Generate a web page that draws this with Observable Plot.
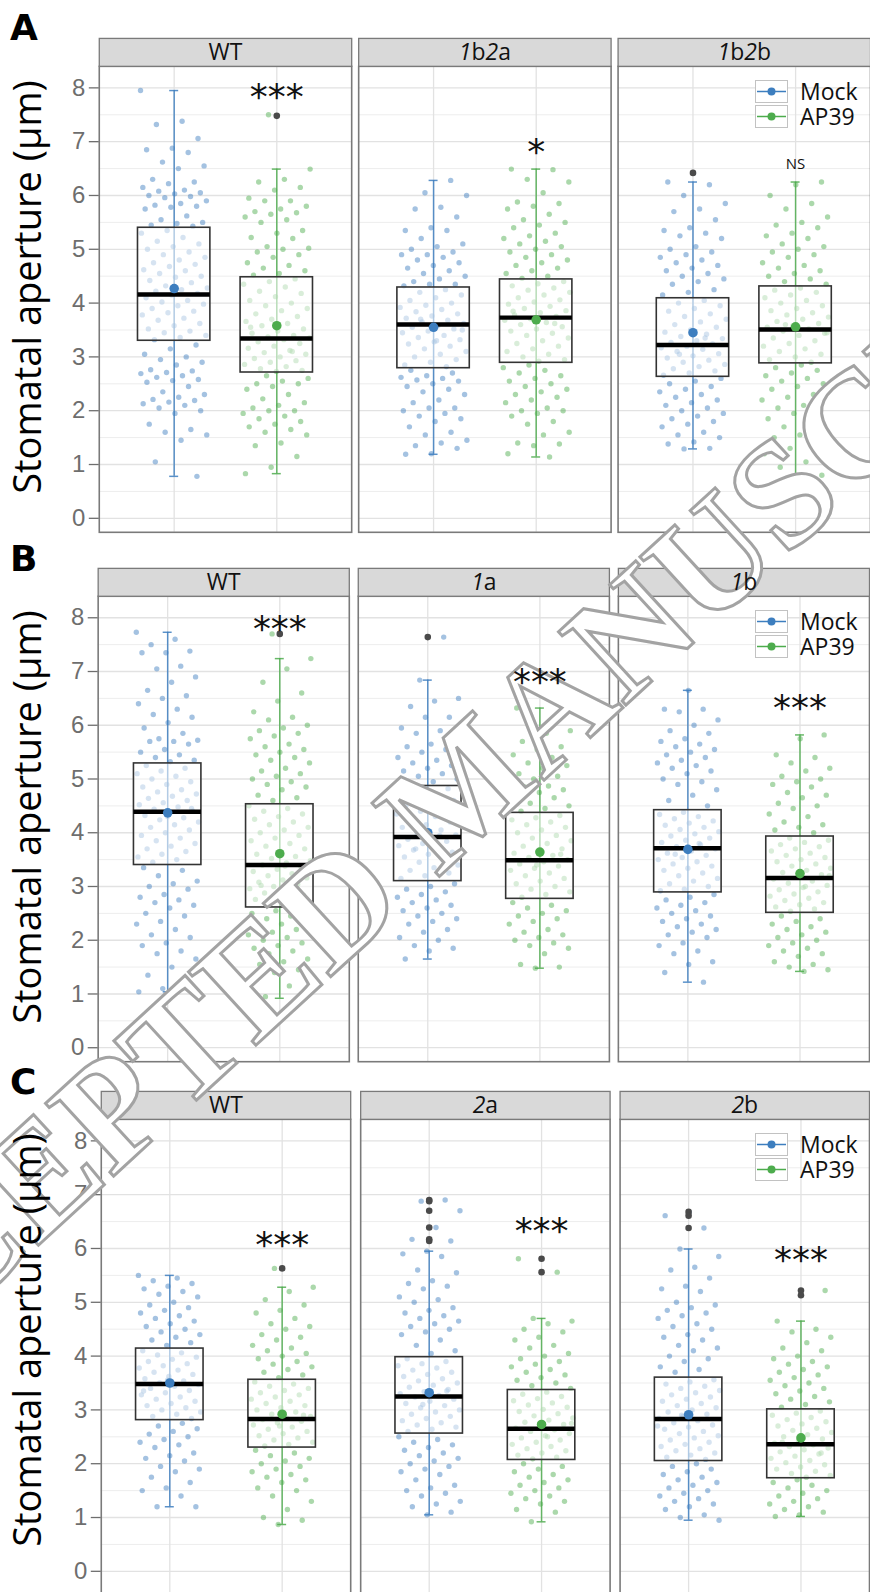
<!DOCTYPE html>
<html>
<head>
<meta charset="utf-8">
<script src="https://cdn.jsdelivr.net/npm/d3@7"></script>
<script src="https://cdn.jsdelivr.net/npm/@observablehq/plot@0.6"></script>
<style>
html, body { margin: 0; padding: 0; background: #fff; }
#fig { position: relative; width: 870px; height: 1592px; overflow: hidden; background: #fff; }
.row { position: absolute; left: 0; }
</style>
</head>
<body>
<div id="fig"></div>
<script>
// ---------------- DATA ----------------
const treatments = ["Mock", "AP39"];
const genotypesA = ["WT", "1b2a", "1b2b"];
const genotypesB = ["WT", "1a", "1b"];
const genotypesC = ["WT", "2a", "2b"];
const yTicks = [0, 1, 2, 3, 4, 5, 6, 7, 8];
const yMinorTicks = [0.5, 1.5, 2.5, 3.5, 4.5, 5.5, 6.5, 7.5];
const yTitle = "Stomatal aperture (µm)";
const panelLetters = ["A", "B", "C"];
const watermark = "ACCEPTED MANUSCRIPT";

// box statistics, order: g1 Mock, g1 AP39, g2 Mock, g2 AP39, g3 Mock, g3 AP39
const lowerA  = [0.78, 0.83, 1.19, 1.14, 1.29, 0.75];
const q1A     = [3.30, 2.71, 2.79, 2.89, 2.63, 2.88];
const medianA = [4.16, 3.34, 3.60, 3.73, 3.22, 3.51];
const q3A     = [5.40, 4.48, 4.29, 4.44, 4.09, 4.31];
const upperA  = [7.95, 6.49, 6.28, 6.49, 6.25, 6.25];
const meanA   = [4.27, 3.58, 3.55, 3.69, 3.45, 3.56];
const outliersA = [[], [7.48], [], [], [6.42], []];
const sigLabelsA = ["***", "*", "NS"];
const sigYA = [7.83, 6.80, 6.59];

const lowerB  = [1.04, 0.92, 1.65, 1.48, 1.22, 1.42];
const q1B     = [3.40, 2.61, 3.10, 2.77, 2.89, 2.51];
const medianB = [4.39, 3.40, 3.92, 3.49, 3.71, 3.16];
const q3B     = [5.29, 4.53, 4.87, 4.37, 4.42, 3.93];
const upperB  = [7.73, 7.24, 6.84, 6.32, 6.65, 5.82];
const meanB   = [4.37, 3.61, 4.00, 3.64, 3.69, 3.24];
const outliersB = [[], [7.70], [7.64], [], [], []];
const sigLabelsB = ["***", "***", "***"];
const sigYB = [7.79, 6.80, 6.31];

const lowerC  = [1.20, 0.87, 1.05, 0.92, 0.95, 1.02];
const q1C     = [2.81, 2.30, 2.56, 2.07, 2.05, 1.73];
const medianC = [3.48, 2.83, 3.25, 2.65, 2.83, 2.36];
const q3C     = [4.14, 3.56, 3.98, 3.37, 3.60, 3.01];
const upperC  = [5.50, 5.28, 5.95, 4.70, 5.99, 4.65];
const meanC   = [3.50, 2.92, 3.32, 2.73, 2.91, 2.48];
const outliersC = [[], [5.63], [6.90, 6.88, 6.70, 6.39, 6.17, 6.14], [5.81, 5.56], [6.68, 6.61, 6.38], [5.22, 5.13]];
const sigLabelsC = ["***", "***", "***"];
const sigYC = [6.05, 6.32, 5.77];

// individual apertures
const ptsA_WT_Mock = [7.95,7.38,7.32,7.06,6.88,6.85,6.80,6.62,6.55,6.50,6.30,6.25,6.22,6.15,6.10,6.08,6.05,6.03,6.00,5.98,5.96,5.90,5.85,5.82,5.80,5.78,5.75,5.62,5.55,5.50,5.48,5.45,5.43,
  5.35,5.30,5.22,5.15,5.10,5.05,5.00,4.95,4.90,4.85,4.80,4.75,4.72,4.68,4.62,4.60,4.55,4.50,4.48,4.42,4.38,4.32,4.28,4.25,4.22,4.18,4.15,4.10,4.05,4.02,3.98,3.95,3.90,3.85,3.82,3.78,3.72,3.68,3.62,3.58,3.52,3.48,3.45,3.40,3.36,3.32,
  3.22,3.15,3.05,3.00,2.95,2.90,2.85,2.76,2.74,2.71,2.69,2.65,2.62,2.58,2.56,2.53,2.45,2.35,2.30,2.25,2.21,2.19,2.16,2.13,2.10,2.05,2.00,1.95,1.75,1.65,1.60,1.55,1.45,1.05,0.78];
const ptsA_WT_AP39 = [7.50,6.49,6.30,6.25,6.15,6.10,5.95,5.90,5.90,5.80,5.75,5.70,5.68,5.65,5.60,5.55,5.50,5.35,5.30,5.22,5.20,5.05,5.02,5.00,4.95,4.90,4.85,4.75,4.70,4.65,4.60,4.55,4.52,
  4.45,4.40,4.35,4.30,4.22,4.18,4.12,4.05,4.00,3.95,3.90,3.86,3.80,3.75,3.70,3.66,3.62,3.58,3.52,3.48,3.44,3.40,3.37,3.35,3.32,3.28,3.25,3.20,3.16,3.12,3.08,3.05,3.00,2.97,2.93,2.90,2.86,2.82,2.78,2.75,2.73,3.55,3.10,
  2.65,2.60,2.55,2.50,2.50,2.45,2.40,2.30,2.22,2.15,2.10,2.05,2.00,2.00,1.95,1.90,1.85,1.80,1.75,1.70,1.65,1.60,1.55,1.40,1.35,1.15,0.95,0.83];
const ptsA_1b2a_Mock = [6.28,6.05,6.00,5.78,5.75,5.60,5.40,5.35,5.35,5.20,5.10,5.05,5.00,4.95,4.90,4.90,4.85,4.80,4.75,4.70,4.65,4.60,4.55,4.50,4.45,4.40,4.35,4.35,4.32,
  4.25,4.20,4.15,4.10,4.05,4.00,3.96,3.92,3.88,3.84,3.80,3.76,3.72,3.68,3.65,3.62,3.58,3.55,3.52,3.48,3.45,3.40,3.36,3.32,3.28,3.24,3.20,3.15,3.10,3.05,3.00,2.95,2.90,2.85,2.82,3.70,3.50,3.30,
  2.75,2.70,2.65,2.62,2.60,2.57,2.55,2.50,2.45,2.40,2.35,2.30,2.20,2.15,2.05,2.05,2.00,1.95,1.90,1.85,1.80,1.70,1.60,1.55,1.45,1.40,1.35,1.30,1.20,1.19];
const ptsA_1b2a_AP39 = [6.49,6.48,6.30,6.25,6.05,5.88,5.85,5.80,5.75,5.65,5.55,5.50,5.45,5.40,5.30,5.25,5.20,5.15,5.10,5.05,5.00,4.95,4.90,4.85,4.80,4.75,4.70,4.65,4.60,4.55,4.50,4.46,
  4.40,4.36,4.32,4.28,4.24,4.20,4.15,4.10,4.06,4.02,3.98,3.94,3.90,3.86,3.82,3.78,3.75,3.71,3.68,3.64,3.60,3.56,3.52,3.48,3.44,3.40,3.35,3.30,3.25,3.20,3.15,3.10,3.05,3.00,2.95,2.92,3.85,3.62,
  2.85,2.80,2.75,2.70,2.65,2.60,2.55,2.50,2.45,2.40,2.35,2.30,2.25,2.20,2.15,2.05,2.00,2.00,1.95,1.90,1.80,1.75,1.60,1.55,1.40,1.38,1.35,1.20,1.14];
const ptsA_1b2b_Mock = [6.42,6.25,6.20,6.00,5.85,5.75,5.70,5.55,5.40,5.35,5.30,5.25,5.20,5.05,5.00,4.95,4.90,4.85,4.80,4.75,4.70,4.65,4.60,4.55,4.50,4.45,4.40,4.35,4.25,4.20,4.15,
  4.05,4.00,3.95,3.90,3.85,3.80,3.75,3.70,3.65,3.60,3.55,3.50,3.46,3.42,3.38,3.34,3.30,3.27,3.24,3.20,3.17,3.14,3.10,3.06,3.02,2.98,2.94,2.90,2.86,2.82,2.78,2.74,2.70,2.66,3.35,3.05,
  2.60,2.55,2.50,2.45,2.40,2.35,2.30,2.25,2.20,2.15,2.10,2.05,2.00,1.95,1.90,1.85,1.80,1.75,1.70,1.60,1.55,1.50,1.42,1.38,1.30,1.29];
const ptsA_1b2b_AP39 = [6.25,6.20,6.00,5.85,5.75,5.60,5.50,5.45,5.40,5.30,5.25,5.20,5.10,5.05,5.00,4.95,4.90,4.85,4.75,4.70,4.65,4.60,4.55,4.50,4.45,4.40,4.35,
  4.28,4.24,4.20,4.15,4.10,4.05,4.00,3.95,3.90,3.86,3.82,3.78,3.74,3.70,3.66,3.62,3.58,3.55,3.52,3.48,3.44,3.40,3.35,3.30,3.25,3.20,3.15,3.10,3.05,3.00,2.95,2.90,3.60,3.45,
  2.85,2.80,2.75,2.70,2.65,2.60,2.55,2.50,2.45,2.40,2.30,2.25,2.20,2.10,2.05,2.00,1.95,1.85,1.80,1.70,1.60,1.55,1.50,1.40,1.30,1.20,1.05,0.95,0.80,0.75];

const ptsB_WT_Mock = [7.73,7.60,7.50,7.38,7.35,7.35,7.10,7.05,6.90,6.80,6.65,6.55,6.50,6.40,6.30,6.20,6.15,6.05,5.95,5.85,5.75,5.72,5.70,5.70,5.65,5.55,5.50,5.45,5.40,5.35,5.32,
  5.25,5.20,5.15,5.10,5.05,5.00,4.95,4.90,4.85,4.80,4.76,4.72,4.68,4.64,4.60,4.56,4.52,4.48,4.44,4.40,4.36,4.32,4.28,4.24,4.20,4.15,4.10,4.05,4.00,3.95,3.90,3.85,3.80,3.75,3.70,3.65,3.60,3.55,3.50,3.45,4.45,4.30,
  3.35,3.30,3.20,3.10,3.05,3.00,2.95,2.85,2.80,2.75,2.70,2.65,2.60,2.50,2.45,2.35,2.30,2.20,2.10,2.05,1.95,1.90,1.80,1.75,1.65,1.50,1.35,1.20,1.10,1.04];
const ptsB_WT_AP39 = [7.70,7.24,7.05,6.80,6.60,6.45,6.25,6.15,6.10,6.00,5.95,5.90,5.85,5.80,5.75,5.65,5.60,5.55,5.50,5.45,5.40,5.35,5.30,5.20,5.15,5.10,5.05,5.00,4.95,4.90,4.85,4.80,4.70,4.65,4.60,
  4.50,4.45,4.40,4.35,4.30,4.25,4.20,4.15,4.10,4.05,4.00,3.95,3.90,3.85,3.80,3.75,3.70,3.65,3.60,3.56,3.52,3.48,3.44,3.40,3.36,3.32,3.28,3.24,3.20,3.16,3.12,3.08,3.04,3.00,2.96,2.92,2.88,2.84,2.80,2.76,2.72,2.68,2.64,3.38,3.02,2.78,
  2.55,2.50,2.45,2.40,2.35,2.30,2.25,2.20,2.15,2.10,2.05,2.00,1.95,1.90,1.85,1.80,1.75,1.65,1.60,1.55,1.45,1.40,1.30,1.15,0.95,0.92];
const ptsB_1a_Mock = [7.64,6.84,6.50,6.45,6.35,6.15,6.15,5.95,5.90,5.85,5.75,5.65,5.60,5.55,5.50,5.40,5.35,5.30,5.25,5.20,5.15,5.10,5.05,5.00,4.95,4.92,
  4.82,4.78,4.74,4.70,4.65,4.60,4.55,4.50,4.45,4.40,4.35,4.30,4.25,4.20,4.15,4.10,4.05,4.00,3.96,3.92,3.88,3.84,3.80,3.76,3.72,3.68,3.64,3.60,3.55,3.50,3.45,3.40,3.35,3.30,3.25,3.20,3.15,3.95,3.70,
  3.05,3.00,2.95,2.90,2.85,2.80,2.75,2.70,2.65,2.60,2.55,2.50,2.45,2.40,2.35,2.30,2.20,2.15,2.05,2.00,1.90,1.85,1.80,1.65];
const ptsB_1a_AP39 = [6.32,6.10,6.05,5.90,5.85,5.70,5.60,5.55,5.45,5.40,5.30,5.25,5.20,5.10,5.05,5.00,4.95,4.87,4.85,4.80,4.75,4.70,4.65,4.55,4.50,4.45,4.40,
  4.32,4.28,4.24,4.20,4.15,4.10,4.05,4.00,3.95,3.90,3.85,3.80,3.75,3.70,3.66,3.62,3.58,3.54,3.50,3.46,3.42,3.38,3.34,3.30,3.25,3.20,3.15,3.10,3.05,3.00,2.95,2.90,2.85,2.80,3.60,3.40,
  2.70,2.65,2.60,2.55,2.50,2.45,2.40,2.35,2.30,2.20,2.15,2.10,2.05,2.00,1.95,1.90,1.85,1.75,1.55,1.50,1.48];
const ptsB_1b_Mock = [6.65,6.30,6.30,6.25,6.10,6.00,5.90,5.85,5.75,5.70,5.65,5.60,5.55,5.50,5.45,5.40,5.35,5.30,5.25,5.20,5.15,5.10,5.00,4.95,4.90,4.80,4.70,4.60,4.50,
  4.38,4.34,4.30,4.26,4.22,4.18,4.14,4.10,4.06,4.02,3.98,3.94,3.90,3.86,3.82,3.78,3.74,3.70,3.66,3.62,3.58,3.54,3.50,3.46,3.42,3.38,3.34,3.30,3.25,3.20,3.15,3.10,3.05,3.00,2.95,2.92,3.80,3.60,
  2.85,2.80,2.75,2.70,2.65,2.60,2.55,2.50,2.45,2.40,2.35,2.30,2.25,2.20,2.15,2.10,2.05,1.95,1.90,1.80,1.75,1.60,1.55,1.40,1.22];
const ptsB_1b_AP39 = [5.82,5.75,5.45,5.40,5.30,5.20,5.15,5.05,5.00,4.95,4.90,4.85,4.75,4.70,4.65,4.55,4.50,4.45,4.35,4.30,4.20,4.15,4.10,4.05,4.00,
  3.90,3.86,3.82,3.78,3.74,3.70,3.66,3.62,3.58,3.54,3.50,3.46,3.42,3.38,3.34,3.30,3.26,3.22,3.18,3.14,3.10,3.06,3.02,2.98,2.94,2.90,2.86,2.82,2.78,2.74,2.70,2.66,2.62,2.58,2.54,3.20,3.00,
  2.45,2.40,2.35,2.30,2.25,2.20,2.15,2.10,2.05,2.00,1.95,1.90,1.85,1.80,1.75,1.70,1.60,1.55,1.50,1.45,1.42];

const ptsC_WT_Mock = [5.50,5.45,5.40,5.35,5.30,5.25,5.20,5.15,5.10,5.00,4.95,4.90,4.85,4.80,4.75,4.70,4.65,4.60,4.55,4.50,4.45,4.40,4.35,4.30,4.25,4.20,
  4.10,4.06,4.02,3.98,3.94,3.90,3.86,3.82,3.78,3.74,3.70,3.66,3.62,3.58,3.54,3.50,3.47,3.44,3.40,3.36,3.32,3.28,3.24,3.20,3.16,3.12,3.08,3.04,3.00,2.96,2.92,2.88,2.84,3.55,3.35,
  2.75,2.70,2.65,2.60,2.55,2.50,2.45,2.40,2.35,2.30,2.20,2.15,2.10,2.05,1.95,1.90,1.85,1.75,1.65,1.55,1.50,1.40,1.20,1.20];
const ptsC_WT_AP39 = [5.63,5.28,5.20,5.05,4.95,4.85,4.80,4.70,4.60,4.55,4.50,4.40,4.35,4.30,4.20,4.15,4.10,4.05,4.00,3.95,3.90,3.85,3.80,3.75,3.70,3.65,3.60,
  3.52,3.48,3.44,3.40,3.36,3.32,3.28,3.24,3.20,3.16,3.12,3.08,3.04,3.00,2.96,2.92,2.88,2.85,2.82,2.79,2.76,2.72,2.68,2.64,2.60,2.56,2.52,2.48,2.44,2.40,2.36,2.33,2.90,2.70,
  2.25,2.20,2.15,2.10,2.05,2.00,1.95,1.90,1.85,1.80,1.75,1.70,1.65,1.55,1.50,1.40,1.30,1.15,1.00,0.95,0.87];
const ptsC_2a_Mock = [6.90,6.88,6.70,6.39,6.17,6.14,5.95,5.90,5.85,5.60,5.55,5.40,5.35,5.30,5.25,5.10,5.05,5.00,4.90,4.85,4.80,4.75,4.70,4.65,4.60,4.55,4.50,4.45,4.40,4.30,4.20,4.10,4.05,
  3.95,3.90,3.86,3.82,3.78,3.74,3.70,3.66,3.62,3.58,3.54,3.50,3.46,3.42,3.38,3.34,3.30,3.27,3.24,3.20,3.16,3.12,3.08,3.04,3.00,2.96,2.92,2.88,2.84,2.80,2.76,2.72,2.68,2.64,2.60,3.35,3.10,
  2.50,2.45,2.40,2.35,2.30,2.25,2.20,2.15,2.10,2.05,2.00,1.95,1.90,1.85,1.80,1.70,1.60,1.55,1.50,1.45,1.40,1.30,1.25,1.20,1.10,1.05];
const ptsC_2a_AP39 = [5.81,5.56,4.70,4.65,4.60,4.50,4.45,4.35,4.30,4.20,4.15,4.05,4.00,3.95,3.90,3.85,3.80,3.75,3.70,3.65,3.60,3.55,3.50,3.45,3.40,
  3.33,3.29,3.25,3.21,3.17,3.13,3.09,3.05,3.01,2.97,2.93,2.89,2.85,2.81,2.77,2.73,2.69,2.66,2.63,2.60,2.56,2.52,2.48,2.44,2.40,2.36,2.32,2.28,2.24,2.20,2.16,2.12,2.09,2.75,2.50,
  2.00,1.95,1.90,1.85,1.80,1.75,1.70,1.65,1.60,1.55,1.50,1.45,1.40,1.35,1.30,1.25,1.15,1.10,0.92];
const ptsC_2b_Mock = [6.68,6.61,6.38,5.99,5.85,5.65,5.60,5.45,5.30,5.25,5.20,5.00,4.95,4.90,4.85,4.80,4.75,4.70,4.60,4.55,4.50,4.40,4.35,4.30,4.20,4.15,4.10,4.00,3.95,3.90,3.80,3.75,3.70,
  3.56,3.52,3.48,3.44,3.40,3.36,3.32,3.28,3.24,3.20,3.16,3.12,3.08,3.04,3.00,2.96,2.92,2.88,2.84,2.80,2.76,2.72,2.68,2.64,2.60,2.56,2.52,2.48,2.44,2.40,2.36,2.32,2.28,2.24,2.20,2.16,2.12,2.08,2.90,2.70,
  2.00,1.95,1.90,1.85,1.80,1.75,1.70,1.65,1.60,1.55,1.50,1.45,1.40,1.35,1.30,1.25,1.20,1.15,1.05,1.00,0.95];
const ptsC_2b_AP39 = [5.22,5.13,4.65,4.50,4.45,4.35,4.25,4.15,4.10,4.00,3.95,3.90,3.85,3.80,3.75,3.70,3.65,3.60,3.55,3.50,3.45,3.40,3.35,3.30,3.25,3.20,3.15,3.10,3.05,
  2.98,2.94,2.90,2.86,2.82,2.78,2.74,2.70,2.66,2.62,2.58,2.54,2.50,2.46,2.42,2.38,2.35,2.32,2.29,2.26,2.22,2.18,2.14,2.10,2.06,2.02,1.98,1.94,1.90,1.86,1.82,1.78,1.75,2.40,2.20,
  1.70,1.65,1.60,1.55,1.50,1.45,1.40,1.35,1.30,1.25,1.20,1.15,1.10,1.05,1.02];

// ---------------- DRAWING ----------------
const mockColor = "#3d7ebf";
const ap39Color = "#4dac4d";
const fig = document.getElementById("fig");
const UNIT = 53.93;      // px per µm
const Y_MAX = 8.40;
const MARGIN_TOP = 66;
const STRIP_H = 28;

function jitter(i, k) {
  // deterministic, evenly spread horizontal offsets in [-1, 1]
  return (((i * 0.6180339887) + k * 0.377) % 1) * 2 - 1;
}

function layout(cfg) {
  const panelH = (Y_MAX - cfg.yMin) * UNIT;
  const height = Math.ceil(MARGIN_TOP + panelH + 2);
  const marginBottom = height - MARGIN_TOP - panelH;
  const R = cfg.width - cfg.marginLeft;
  const step = R / (cfg.genotypes.length - cfg.paddingInner);
  const bw = step * (1 - cfg.paddingInner);
  const ppu = bw / (1 + 2 * cfg.xPad);
  return {panelH, height, marginBottom, ppu};
}

function baseOptions(cfg, L) {
  return {
    width: cfg.width, height: L.height, marginLeft: cfg.marginLeft, marginRight: 0,
    marginTop: MARGIN_TOP, marginBottom: L.marginBottom,
    style: {background: "transparent", fontFamily: "Open Sans, sans-serif", overflow: "visible"},
    fx: {domain: cfg.genotypes, paddingInner: cfg.paddingInner, paddingOuter: 0, label: null},
    x: {domain: [-cfg.xPad, 1 + cfg.xPad], axis: null},
    color: {domain: treatments, range: [mockColor, ap39Color]}
  };
}

function addLayer(node, top) {
  const div = document.createElement("div");
  div.className = "row";
  div.style.top = top + "px";
  div.appendChild(node);
  fig.appendChild(div);
}

function drawRow(cfg) {
  const {genotypes, lower, q1, median, q3, upper, mean, outliers, points, boxPx, yMin} = cfg;
  const L = layout(cfg);
  const boxHalf = boxPx / L.ppu;
  const capHalf = 4.5 / L.ppu;
  const jitHalf = boxHalf * 0.93;

  const stats = [], pts = [], outs = [];
  genotypes.forEach((g, gi) => {
    treatments.forEach((t, ti) => {
      const k = gi * 2 + ti;
      stats.push({g, t, x: ti, lower: lower[k], q1: q1[k], median: median[k], q3: q3[k], upper: upper[k], mean: mean[k]});
      points[k].forEach((y, i) => pts.push({g, t, x: ti + jitter(i, k) * jitHalf, y}));
      outliers[k].forEach(y => outs.push({g, t, x: ti, y}));
    });
  });

  const chart = Plot.plot({
    ...baseOptions(cfg, L),
    fx: {domain: genotypes, paddingInner: cfg.paddingInner, paddingOuter: 0, label: null, axis: null},
    y: {domain: [yMin, Y_MAX]},
    marks: [
      Plot.ruleY(yMinorTicks, {stroke: "#ededed", strokeWidth: 1}),
      Plot.ruleY(yTicks, {stroke: "#e2e2e2", strokeWidth: 1.3}),
      Plot.ruleX(treatments.map((t, i) => i), {stroke: "#e2e2e2", strokeWidth: 1.3}),
      Plot.dot(pts, {fx: "g", x: "x", y: "y", fill: "t", r: 2.7, fillOpacity: 0.47}),
      Plot.ruleX(stats, {fx: "g", x: "x", y1: "lower", y2: "upper", stroke: "t", strokeWidth: 1.5, strokeOpacity: 0.85}),
      Plot.ruleY(stats, {fx: "g", x1: d => d.x - capHalf, x2: d => d.x + capHalf, y: "upper", stroke: "t", strokeWidth: 1.5, strokeOpacity: 0.85}),
      Plot.ruleY(stats, {fx: "g", x1: d => d.x - capHalf, x2: d => d.x + capHalf, y: "lower", stroke: "t", strokeWidth: 1.5, strokeOpacity: 0.85}),
      Plot.rect(stats, {fx: "g", x1: d => d.x - boxHalf, x2: d => d.x + boxHalf, y1: "q1", y2: "q3",
                        fill: "white", fillOpacity: 0.55, stroke: "#333", strokeWidth: 1.6}),
      Plot.ruleY(stats, {fx: "g", x1: d => d.x - boxHalf, x2: d => d.x + boxHalf, y: "median", stroke: "#000", strokeWidth: 4.5}),
      Plot.dot(stats, {fx: "g", x: "x", y: "mean", fill: "t", r: 4.8}),
      Plot.dot(outs, {fx: "g", x: "x", y: "y", fill: "#4a4a4a", r: 3.3}),
      Plot.frame({stroke: "#7a7a7a", strokeWidth: 1.6}),
      Plot.frame({fill: "#d9d9d9", stroke: "#7a7a7a", strokeWidth: 1.3, insetTop: -STRIP_H, insetBottom: L.panelH}),
      Plot.axisY({ticks: yTicks, tickSize: 10, tickPadding: 4, fontSize: 24, label: null, color: "#6e6e6e",
                  strokeWidth: 1.3, fontFamily: "Liberation Sans, Arial, sans-serif"})
    ]
  });
  addLayer(chart, cfg.top);
}

// strip labels and significance labels, drawn in a top layer so they stay readable above the watermark
function drawLabels(cfg) {
  const L = layout(cfg);
  const sig = cfg.genotypes.map((g, gi) => ({g, x: treatments.indexOf("AP39"), y: cfg.sigY[gi], label: cfg.sigLabels[gi]}));
  const stars = sig.filter(d => d.label !== "NS");
  const ns = sig.filter(d => d.label === "NS");
  const chart = Plot.plot({
    ...baseOptions(cfg, L),
    y: {domain: [cfg.yMin, Y_MAX], axis: null},
    marks: [
      Plot.text(stars, {fx: "g", x: "x", y: "y", text: "label", fontSize: 36, fontFamily: "DejaVu Sans", fill: "#111"}),
      Plot.text(ns, {fx: "g", x: "x", y: "y", text: "label", fontSize: 15, fontFamily: "Open Sans", fill: "#111"}),
      Plot.axisFx({anchor: "top", tickSize: 0, tickPadding: 6, fontSize: 23, label: null, color: "#111", fontFamily: "Open Sans"})
    ]
  });
  // italic gene numbers in the strip labels
  let labels = d3.select(chart).selectAll('g[aria-label="fx-axis tick label"] text');
  if (labels.empty()) labels = d3.select(chart).selectAll("text").filter(function () { return cfg.genotypes.includes(this.textContent); });
  labels.each(function () {
    const s = this.textContent;
    if (!/\d/.test(s)) return;
    const sel = d3.select(this);
    sel.text(null);
    for (const ch of s) sel.append("tspan").attr("font-style", /\d/.test(ch) ? "italic" : null).text(ch);
  });
  chart.style.pointerEvents = "none";
  addLayer(chart, cfg.top);
}

const rows = [
  {genotypes: genotypesA, lower: lowerA, q1: q1A, median: medianA, q3: q3A, upper: upperA, mean: meanA,
   outliers: outliersA, sigLabels: sigLabelsA, sigY: sigYA,
   points: [ptsA_WT_Mock, ptsA_WT_AP39, ptsA_1b2a_Mock, ptsA_1b2a_AP39, ptsA_1b2b_Mock, ptsA_1b2b_AP39],
   top: 0, marginLeft: 98, width: 872, paddingInner: 0.028, xPad: 0.73, boxPx: 36.3, yMin: -0.26},
  {genotypes: genotypesB, lower: lowerB, q1: q1B, median: medianB, q3: q3B, upper: upperB, mean: meanB,
   outliers: outliersB, sigLabels: sigLabelsB, sigY: sigYB,
   points: [ptsB_WT_Mock, ptsB_WT_AP39, ptsB_1a_Mock, ptsB_1a_AP39, ptsB_1b_Mock, ptsB_1b_AP39],
   top: 530, marginLeft: 98, width: 873, paddingInner: 0.034, xPad: 0.62, boxPx: 33.9, yMin: -0.26},
  {genotypes: genotypesC, lower: lowerC, q1: q1C, median: medianC, q3: q3C, upper: upperC, mean: meanC,
   outliers: outliersC, sigLabels: sigLabelsC, sigY: sigYC,
   points: [ptsC_WT_Mock, ptsC_WT_AP39, ptsC_2a_Mock, ptsC_2a_AP39, ptsC_2b_Mock, ptsC_2b_AP39],
   top: 1053, marginLeft: 100, width: 872, paddingInner: 0.039, xPad: 0.61, boxPx: 33.9, yMin: -0.55}
];
rows.forEach(drawRow);

function overlaySvg() {
  return d3.select(fig).append("svg")
    .attr("width", 870).attr("height", 1592)
    .style("position", "absolute").style("left", "0px").style("top", "0px")
    .style("pointer-events", "none");
}

// ---------------- WATERMARK ----------------
overlaySvg().append("text")
  .attr("transform", "translate(-206,1470) rotate(-42.6)")
  .attr("font-family", "Liberation Serif, Times New Roman, serif").attr("font-weight", "bold").attr("font-size", 152)
  .attr("fill", "white").attr("stroke", "#a3a3a3").attr("stroke-width", 3)
  .text(watermark);

// ---------------- OVERLAY: panel letters, axis titles, legends ----------------
const ov = overlaySvg();
const letterBase = [40, 571, 1094];
const legendColors = [mockColor, ap39Color];
rows.forEach((r, i) => {
  ov.append("text").attr("x", 10).attr("y", letterBase[i])
    .attr("font-family", "DejaVu Sans, sans-serif").attr("font-weight", "bold").attr("font-size", 36)
    .text(panelLetters[i]);
  ov.append("text").attr("transform", `translate(41,${r.top + 287}) rotate(-90)`)
    .attr("text-anchor", "middle").attr("font-family", "Open Sans, sans-serif").attr("font-size", 38)
    .attr("fill", "#000").text(yTitle);
  treatments.forEach((t, ti) => {
    const y0 = r.top + 80 + ti * 25;
    ov.append("rect").attr("x", 755.5).attr("y", y0 + 0.5).attr("width", 32).attr("height", 22)
      .attr("fill", "white").attr("stroke", "#c2c2c2");
    ov.append("line").attr("x1", 757).attr("x2", 786).attr("y1", y0 + 11.5).attr("y2", y0 + 11.5)
      .attr("stroke", legendColors[ti]).attr("stroke-width", 1.5);
    ov.append("circle").attr("cx", 771.5).attr("cy", y0 + 11.5).attr("r", 4).attr("fill", legendColors[ti]);
  });
  const lt = ov.append("text").attr("font-family", "Open Sans, sans-serif").attr("font-size", 23).attr("fill", "#111");
  treatments.forEach((t, ti) => {
    lt.append("tspan").attr("x", 800).attr("y", r.top + 80 + ti * 25 + 19.5).text(t);
  });
});

rows.forEach(drawLabels);
</script>
</body>
</html>
